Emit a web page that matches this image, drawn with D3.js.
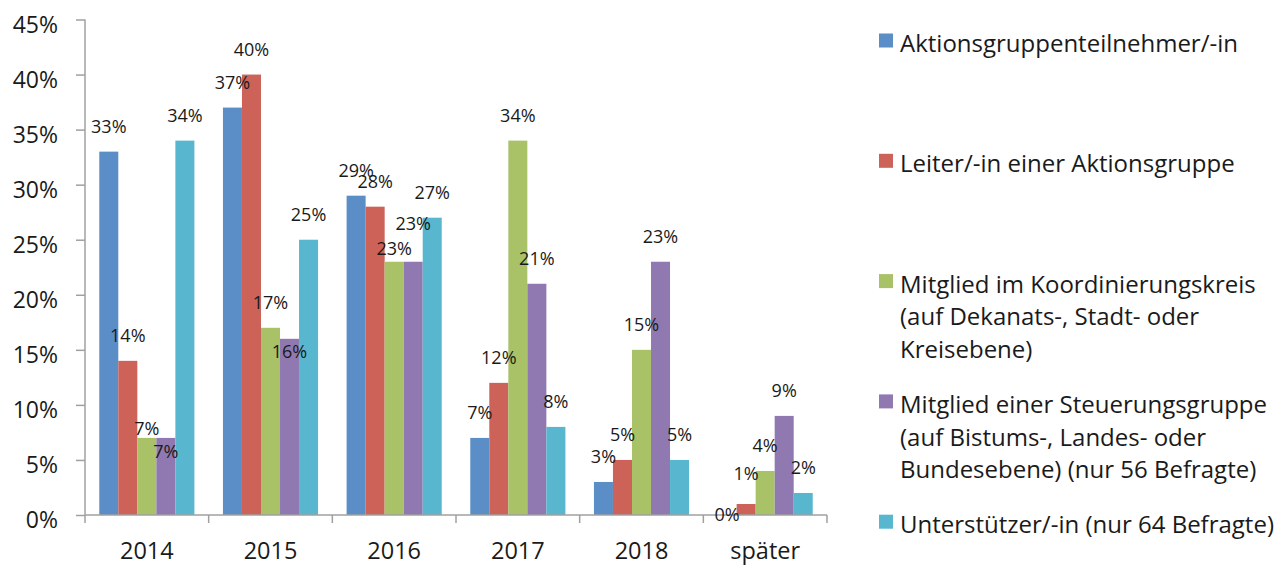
<!DOCTYPE html>
<html>
<head>
<meta charset="utf-8">
<script src="https://cdn.jsdelivr.net/npm/d3@7"></script>
<style>
  body { margin: 0; background: #fff; }
  text { font-family: 'Open Sans', sans-serif; fill: #1a1a1a; }
  .axis path, .axis line { stroke: #a0a0a0; stroke-width: 1.5; }
</style>
</head>
<body>
<div id="chart"></div>
<script>
// Data
var categories = ['2014', '2015', '2016', '2017', '2018', 'später']
var seriesNames = [
  'Aktionsgruppenteilnehmer/-in',
  'Leiter/-in einer Aktionsgruppe',
  'Mitglied im Koordinierungskreis (auf Dekanats-, Stadt- oder Kreisebene)',
  'Mitglied einer Steuerungsgruppe (auf Bistums-, Landes- oder Bundesebene) (nur 56 Befragte)',
  'Unterstützer/-in (nur 64 Befragte)'
]
var teilnehmer = [33, 37, 29, 7, 3, 0]
var leiter = [14, 40, 28, 12, 5, 1]
var koordinierung = [7, 17, 23, 34, 15, 4]
var steuerung = [7, 16, 23, 21, 23, 9]
var unterstuetzer = [34, 25, 27, 8, 5, 2]
var yTicks = [0, 5, 10, 15, 20, 25, 30, 35, 40, 45]

// legend text broken into lines like the original
var legendLines = [
  ['Aktionsgruppenteilnehmer/-in'],
  ['Leiter/-in einer Aktionsgruppe'],
  ['Mitglied im Koordinierungskreis', '(auf Dekanats-, Stadt- oder', 'Kreisebene)'],
  ['Mitglied einer Steuerungsgruppe', '(auf Bistums-, Landes- oder', 'Bundesebene) (nur 56 Befragte)'],
  ['Unterstützer/-in (nur 64 Befragte)']
]

var colors = ['#5b8ec6', '#cc6258', '#a9c267', '#9079b1', '#58b7cf']

// a few labels were dragged by hand in the original (pixels, series index + category)
var labelNudge = {
  '2|2014': 16,
  '3|2014': 39,
  '3|2015': 38,
  '2|2016': 12,
  '3|2016': -13,
  '0|später': 25,
  '1|später': -5
}

var allSeries = [teilnehmer, leiter, koordinierung, steuerung, unterstuetzer]

var svgWidth = 1283
var svgHeight = 565
var plot = { left: 85, right: 827, top: 19.5, bottom: 515 }

var svg = d3.select('#chart')
  .append('svg')
  .attr('width', svgWidth)
  .attr('height', svgHeight)

// Scales
var xScale = d3.scaleBand()
  .domain(categories)
  .range([plot.left, plot.right])
  .padding(0)

var xInner = d3.scaleBand()
  .domain(d3.range(seriesNames.length))
  .range([0, xScale.bandwidth()])
  .paddingInner(0)
  .paddingOuter(0.75)

var yScale = d3.scaleLinear()
  .domain([0, 45])
  .range([plot.bottom, plot.top])

// Bars
var groups = svg.selectAll('.group')
  .data(categories)
  .enter()
  .append('g')
  .attr('class', 'group')
  .attr('transform', d => `translate(${xScale(d)},0)`)

groups.each(function(cat, ci) {
  var g = d3.select(this)
  allSeries.forEach(function(values, si) {
    g.append('rect')
      .attr('x', xInner(si))
      .attr('y', yScale(values[ci]))
      .attr('width', xInner.bandwidth())
      .attr('height', yScale(0) - yScale(values[ci]))
      .attr('fill', colors[si])
  })
})

// Y axis
var yAxis = d3.axisLeft(yScale)
  .tickValues(yTicks)
  .tickSize(9)
  .tickPadding(18)
  .tickFormat(d => d + '%')

svg.append('g')
  .attr('class', 'axis y-axis')
  .attr('transform', `translate(${plot.left},0)`)
  .call(yAxis)
  .call(g => g.select('.domain').attr('d', `M0,${plot.top}V${plot.bottom}`))
  .selectAll('text')
  .style('font-size', '23px')
  .attr('dy', '12.5px')

// X axis: ticks on the category boundaries
var xAxisG = svg.append('g')
  .attr('class', 'axis x-axis')

xAxisG.append('line')
  .attr('x1', plot.left)
  .attr('x2', plot.right)
  .attr('y1', plot.bottom)
  .attr('y2', plot.bottom)

var boundaries = categories.map(c => xScale(c)).concat([xScale.range()[1]])
xAxisG.selectAll('.xtick')
  .data(boundaries)
  .enter()
  .append('line')
  .attr('class', 'xtick')
  .attr('x1', d => d)
  .attr('x2', d => d)
  .attr('y1', plot.bottom)
  .attr('y2', plot.bottom + 8)

xAxisG.selectAll('.xlabel')
  .data(categories)
  .enter()
  .append('text')
  .attr('class', 'xlabel')
  .attr('x', d => xScale(d) + xScale.bandwidth() / 2)
  .attr('y', 559)
  .attr('text-anchor', 'middle')
  .style('font-size', '23.5px')
  .text(d => d)

// Data labels
categories.forEach(function(cat, ci) {
  allSeries.forEach(function(values, si) {
    var nudge = labelNudge[si + '|' + cat] || 0
    svg.append('text')
      .attr('x', xScale(cat) + xInner(si) + xInner.bandwidth() / 2)
      .attr('y', yScale(values[ci]) - 19 + nudge)
      .attr('text-anchor', 'middle')
      .style('font-size', '18px')
      .text(values[ci] + '%')
  })
})

// Legend
var legend = svg.append('g')
  .attr('class', 'legend')

legendLines.forEach(function(lines, i) {
  var baseY = 52 + i * 120.3
  legend.append('rect')
    .attr('x', 879)
    .attr('y', baseY - 18.5)
    .attr('width', 14)
    .attr('height', 14)
    .attr('fill', colors[i])

  lines.forEach(function(line, li) {
    legend.append('text')
      .attr('x', 900)
      .attr('y', baseY + li * 32.6)
      .style('font-size', '24px')
      .text(line)
  })
})
</script>
</body>
</html>
